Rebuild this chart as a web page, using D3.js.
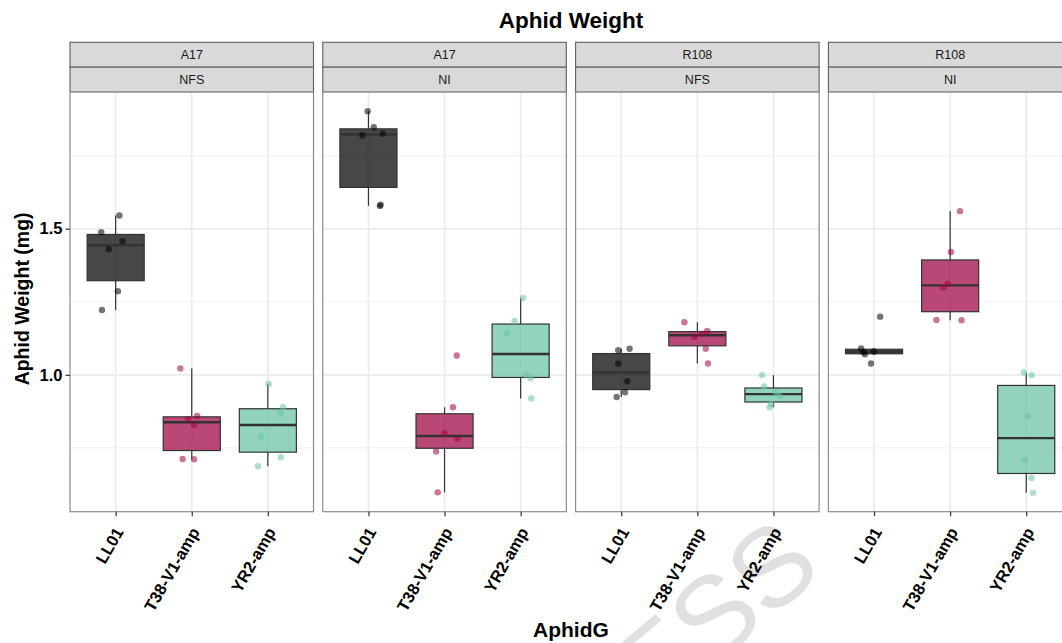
<!DOCTYPE html>
<html>
<head>
<meta charset="utf-8">
<script src="https://cdn.jsdelivr.net/npm/d3@7"></script>
<style>
  body { margin: 0; background: #fff; }
  svg { display: block; font-family: "Liberation Sans", Arial, Helvetica, sans-serif; }
</style>
</head>
<body>
<svg id="chart" width="1062" height="643"></svg>
<script>
// Facet strips: plant line (top row) and treatment (second row)
const cultivars = ["A17", "A17", "R108", "R108"];
const treatments = ["NFS", "NI", "NFS", "NI"];
const genotypes = ["LL01", "T38-V1-amp", "YR2-amp"];
const genotypeColors = ["#000000", "#9E0142", "#66C2A5"];
const yTicks = [1.0, 1.5];
const yMinorTicks = [0.75, 1.25, 1.75];

// Aphid weights (mg), one array per genotype, for each facet
const weightsA17NFS = [
  [1.545, 1.488, 1.457, 1.430, 1.286, 1.222],
  [1.022, 0.848, 0.859, 0.828, 0.712, 0.711],
  [0.969, 0.889, 0.869, 0.788, 0.718, 0.687]
];
const weightsA17NI = [
  [1.902, 1.847, 1.819, 1.825, 1.582, 1.578],
  [1.066, 0.889, 0.800, 0.781, 0.738, 0.598],
  [1.263, 1.184, 1.143, 1.000, 0.988, 0.919]
];
const weightsR108NFS = [
  [1.084, 1.089, 1.039, 0.978, 0.940, 0.924],
  [1.180, 1.150, 1.141, 1.130, 1.089, 1.039],
  [0.999, 0.960, 0.940, 0.928, 0.900, 0.889]
];
const weightsR108NI = [
  [1.199, 1.090, 1.080, 1.078, 1.070, 1.039],
  [1.560, 1.420, 1.312, 1.300, 1.188, 1.187],
  [1.008, 0.999, 0.858, 0.709, 0.647, 0.597]
];

// Horizontal jitter of each point, in category widths
const jitterA17NFS = [
  [0.05, -0.19, 0.09, -0.09, 0.03, -0.18],
  [-0.15, -0.05, 0.07, 0.03, -0.12, 0.03],
  [0.01, 0.20, 0.17, -0.09, 0.17, -0.13]
];
const jitterA17NI = [
  [-0.01, 0.07, -0.08, 0.19, 0.16, 0.15],
  [0.16, 0.11, 0.00, 0.17, -0.11, -0.09],
  [0.03, -0.08, -0.18, 0.07, 0.13, 0.14]
];
const jitterR108NFS = [
  [-0.04, 0.11, -0.04, 0.08, 0.05, -0.06],
  [-0.17, 0.13, 0.06, -0.04, 0.11, 0.14],
  [-0.15, -0.12, 0.03, 0.08, -0.03, -0.05]
];
const jitterR108NI = [
  [0.08, -0.17, 0.00, -0.14, -0.12, -0.04],
  [0.13, 0.01, -0.03, -0.09, -0.18, 0.15],
  [-0.03, 0.07, 0.02, -0.02, 0.07, 0.09]
];

const panelWeights = [weightsA17NFS, weightsA17NI, weightsR108NFS, weightsR108NI];
const panelJitter = [jitterA17NFS, jitterA17NI, jitterR108NFS, jitterR108NI];

// ---- layout ----
const svg = d3.select("#chart");
const panelLeft = 70, panelStep = 252.8, panelW = 243.5;
const stripTop = 42.3, stripH = 24.9;
const panelTop = stripTop + 2 * stripH, panelBottom = 511.7;

// Background watermark text, running off the bottom edge
svg.append("text")
  .attr("transform", "translate(655,665) rotate(-40)")
  .attr("text-anchor", "middle")
  .attr("dominant-baseline", "central")
  .style("font-size", "112px")
  .style("fill", "#e0e0e0")
  .text("PRESS");

const allWeights = panelWeights.flat(2);
const [wMin, wMax] = d3.extent(allWeights);
const pad = (wMax - wMin) * 0.05;
const y = d3.scaleLinear().domain([wMin - pad, wMax + pad]).range([panelBottom, panelTop]);
const x = d3.scalePoint().domain(genotypes).range([0, panelW]).padding(0.6);
const boxW = x.step() * 0.75;
const color = d3.scaleOrdinal().domain(genotypes).range(genotypeColors);

// Box statistics as in ggplot2 (type-7 quantiles, 1.5 IQR whiskers)
function boxStats(vals) {
  const s = vals.slice().sort(d3.ascending);
  const q1 = d3.quantile(s, 0.25), med = d3.quantile(s, 0.5), q3 = d3.quantile(s, 0.75);
  const iqr = q3 - q1;
  const lo = d3.min(s.filter(v => v >= q1 - 1.5 * iqr));
  const hi = d3.max(s.filter(v => v <= q3 + 1.5 * iqr));
  return { q1, med, q3, lo, hi };
}

const plotCenter = panelLeft + (3 * panelStep + panelW) / 2;

// Title
svg.append("text")
  .attr("x", plotCenter)
  .attr("y", 28)
  .attr("text-anchor", "middle")
  .style("font-size", "22.5px").style("font-weight", "bold").style("fill", "#000")
  .text("Aphid Weight");

panelWeights.forEach((weights, p) => {
  const g = svg.append("g").attr("transform", `translate(${panelLeft + p * panelStep},0)`);

  // strips
  [cultivars[p], treatments[p]].forEach((lab, r) => {
    g.append("rect")
      .attr("x", 0).attr("y", stripTop + r * stripH)
      .attr("width", panelW).attr("height", stripH)
      .attr("fill", "#d9d9d9").attr("stroke", "#5e5e5e").attr("stroke-width", 1.1);
    g.append("text")
      .attr("x", panelW / 2).attr("y", stripTop + r * stripH + stripH / 2)
      .attr("dy", "0.36em").attr("text-anchor", "middle")
      .style("font-size", "12.5px").style("fill", "#1a1a1a")
      .text(lab);
  });

  // panel background and grid
  g.append("rect").attr("x", 0).attr("y", panelTop)
    .attr("width", panelW).attr("height", panelBottom - panelTop).attr("fill", "#fff");
  g.selectAll(".minor").data(yMinorTicks).join("line")
    .attr("x1", 0).attr("x2", panelW)
    .attr("y1", d => y(d)).attr("y2", d => y(d))
    .attr("stroke", "#f2f2f2").attr("stroke-width", 1.1);
  g.selectAll(".majorY").data(yTicks).join("line")
    .attr("x1", 0).attr("x2", panelW)
    .attr("y1", d => y(d)).attr("y2", d => y(d))
    .attr("stroke", "#ebebeb").attr("stroke-width", 1.6);
  g.selectAll(".majorX").data(genotypes).join("line")
    .attr("x1", d => x(d)).attr("x2", d => x(d))
    .attr("y1", panelTop).attr("y2", panelBottom)
    .attr("stroke", "#ebebeb").attr("stroke-width", 1.6);

  // boxes
  weights.forEach((vals, i) => {
    const st = boxStats(vals);
    const cx = x(genotypes[i]);
    const bg = g.append("g");
    bg.append("line").attr("x1", cx).attr("x2", cx)
      .attr("y1", y(st.hi)).attr("y2", y(st.q3))
      .attr("stroke", "#333").attr("stroke-width", 1.2);
    bg.append("line").attr("x1", cx).attr("x2", cx)
      .attr("y1", y(st.q1)).attr("y2", y(st.lo))
      .attr("stroke", "#333").attr("stroke-width", 1.2);
    bg.append("rect")
      .attr("x", cx - boxW / 2).attr("y", y(st.q3))
      .attr("width", boxW).attr("height", Math.max(0, y(st.q1) - y(st.q3)))
      .attr("fill", color(genotypes[i])).attr("fill-opacity", 0.72)
      .attr("stroke", "#333").attr("stroke-width", 1.2);
    bg.append("line").attr("x1", cx - boxW / 2).attr("x2", cx + boxW / 2)
      .attr("y1", y(st.med)).attr("y2", y(st.med))
      .attr("stroke", "#333").attr("stroke-width", 2.4);
  });

  // jittered observations
  weights.forEach((vals, i) => {
    g.selectAll(null).data(vals.map((v, k) => ({ v, j: panelJitter[p][i][k] }))).join("circle")
      .attr("cx", d => x(genotypes[i]) + d.j * x.step())
      .attr("cy", d => y(d.v))
      .attr("r", 3.2)
      .attr("fill", color(genotypes[i]))
      .attr("fill-opacity", 0.55);
  });

  // panel border
  g.append("rect").attr("x", 0).attr("y", panelTop)
    .attr("width", panelW).attr("height", panelBottom - panelTop)
    .attr("fill", "none").attr("stroke", "#8c8c8c").attr("stroke-width", 1.2);

  // x axis
  const xa = g.append("g").attr("transform", `translate(0,${panelBottom})`)
    .call(d3.axisBottom(x).tickSize(4.5).tickPadding(0));
  xa.select(".domain").remove();
  xa.selectAll(".tick line").attr("stroke", "#333").attr("stroke-width", 1.2);
  xa.selectAll(".tick text")
    .attr("transform", "translate(8,20) rotate(-60)")
    .attr("text-anchor", "end").attr("x", 0).attr("y", 0).attr("dy", 0)
    .style("font-size", "16.5px").style("font-weight", "bold").style("fill", "#000")
    .style("font-family", "\"Liberation Sans\", Arial, sans-serif");

  // y axis on the first facet only
  if (p === 0) {
    const ya = g.append("g")
      .call(d3.axisLeft(y).tickValues(yTicks).tickFormat(d3.format(".1f")).tickSize(4.5).tickPadding(3));
    ya.select(".domain").remove();
    ya.selectAll(".tick line").attr("stroke", "#333").attr("stroke-width", 1.2);
    ya.selectAll(".tick text")
      .style("font-size", "16.5px").style("font-weight", "bold").style("fill", "#000")
      .style("font-family", "\"Liberation Sans\", Arial, sans-serif");
  }
});

// axis titles
svg.append("text")
  .attr("transform", `translate(29,${(panelTop + panelBottom) / 2 - 3}) rotate(-90)`)
  .attr("text-anchor", "middle")
  .style("font-size", "19.5px").style("font-weight", "bold").style("fill", "#000")
  .text("Aphid Weight (mg)");
svg.append("text")
  .attr("x", plotCenter)
  .attr("y", 637)
  .attr("text-anchor", "middle")
  .style("font-size", "21px").style("font-weight", "bold").style("fill", "#000")
  .text("AphidG");
</script>
</body>
</html>
